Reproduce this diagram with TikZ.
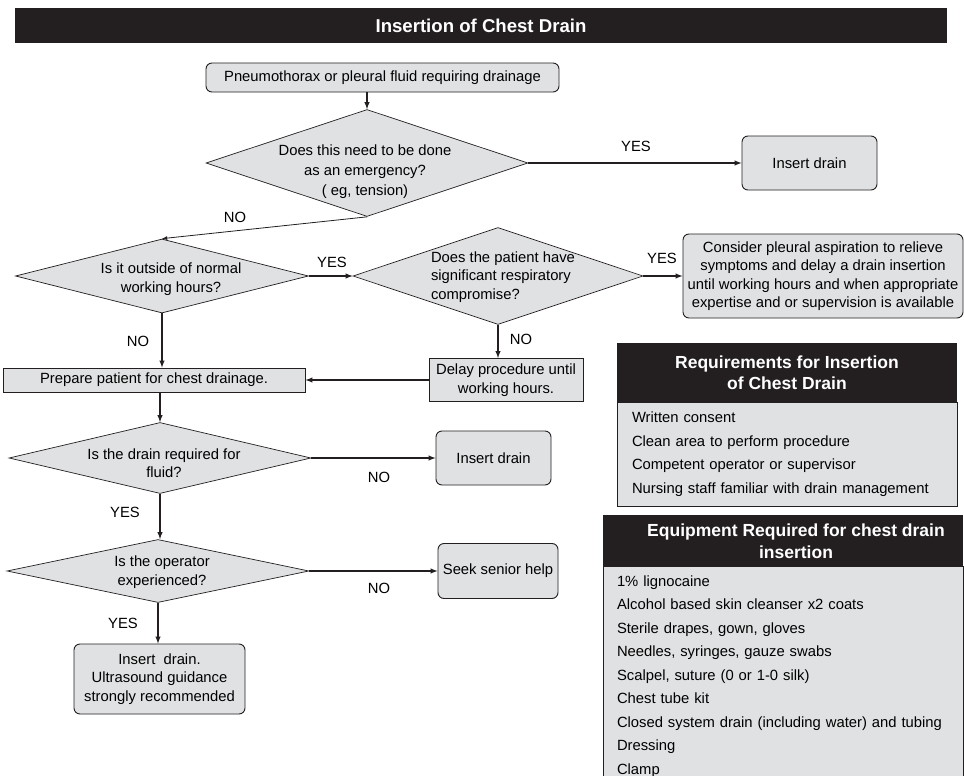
\documentclass[tikz,border=0pt]{standalone}
\usepackage{fontspec}
\setmainfont{Liberation Sans}
\usetikzlibrary{shapes.geometric,arrows}
\definecolor{boxgray}{RGB}{224,225,227}
\definecolor{inkblack}{RGB}{35,31,32}
\newcommand{\bodyfont}{\fontsize{14.8}{18.5}\selectfont}
\newcommand{\listfont}{\fontsize{14.8}{23.5}\selectfont}
\newcommand{\headfont}{\fontsize{17.5}{21.5}\selectfont\bfseries}
\newcommand{\titlefont}{\fontsize{18.6}{22}\selectfont\bfseries}
\tikzstyle{box}=[draw=inkblack,fill=boxgray,line width=0.9pt,inner sep=0pt,align=center,font=\bodyfont]
\tikzstyle{roundbox}=[box,rounded corners=6pt]
\tikzstyle{decision}=[diamond,draw=inkblack,fill=boxgray,line width=0.7pt,inner sep=0pt]
\tikzstyle{qtext}=[inner sep=0pt,align=center,font=\bodyfont]
\tikzstyle{answer}=[inner sep=0pt,font=\bodyfont]
\tikzstyle{headbar}=[fill=inkblack,text=white,inner sep=0pt,align=center]
\tikzstyle{listbox}=[draw=inkblack,fill=boxgray,line width=0.9pt,align=left,font=\listfont,inner xsep=15pt,inner ysep=0pt]
\tikzstyle{flow}=[line width=1.4pt,draw=inkblack,-latex]
\tikzstyle{thinflow}=[line width=0.8pt,draw=inkblack,-latex]

\begin{document}
\begin{tikzpicture}[x=1pt,y=-1pt]
\useasboundingbox (0,0) rectangle (964,776);

% title bar
\node[headbar,minimum width=932,minimum height=35,font=\titlefont] (title) at (481,25.5) {Insertion of Chest Drain};

% flow chart
\node[roundbox,minimum width=353,minimum height=29] (start) at (382.5,77.5) {Pneumothorax or pleural fluid requiring drainage};
\node[decision,minimum width=322,minimum height=107] (emerg) at (367,163) {};
\node[qtext] (emergtext) at (365,172) {Does this need to be done\\[1.5pt]as an emergency?\\[1.5pt]( eg, tension)};
\node[roundbox,minimum width=135,minimum height=54] (ins1) at (809.5,163) {Insert drain};

\node[decision,minimum width=293,minimum height=74] (hours) at (162,276) {};
\node[qtext] (hourstext) at (171,279) {Is it outside of normal\\working hours?};
\node[decision,minimum width=290,minimum height=97] (resp) at (498,276) {};
\node[qtext,align=left] (resptext) at (503,277) {Does the patient have\\significant respiratory\\compromise?};
\node[roundbox,minimum width=280,minimum height=84] (aspir) at (823,276) {Consider pleural aspiration to relieve\\symptoms and delay a drain insertion\\until working hours and when appropriate\\expertise and or supervision is available};

\node[box,minimum width=154,minimum height=43] (delay) at (506,380) {Delay procedure until\\working hours.};
\node[box,minimum width=302,minimum height=24] (prep) at (154,380) {Prepare patient for chest drainage.};

\node[decision,minimum width=302,minimum height=71] (fluid) at (160,458) {};
\node[qtext] (fluidtext) at (164,463) {Is the drain required for\\fluid?};
\node[roundbox,minimum width=115,minimum height=54] (ins2) at (493.5,458) {Insert drain};

\node[decision,minimum width=302,minimum height=63] (oper) at (158,571) {};
\node[qtext] (opertext) at (162,572) {Is the operator\\experienced?};
\node[roundbox,minimum width=120,minimum height=55] (senior) at (498,571) {Seek senior help};
\node[roundbox,minimum width=171,minimum height=70] (ins3) at (159.5,679) {Insert\ \ drain.\\Ultrasound guidance\\strongly recommended};

% answers
\node[answer] (yes1) at (636,146) {YES};
\node[answer] (no1) at (235,217) {NO};
\node[answer] (yes2) at (332,262) {YES};
\node[answer] (yes3) at (662,258) {YES};
\node[answer] (no3) at (521,339) {NO};
\node[answer] (no2) at (138,341) {NO};
\node[answer] (no4) at (379,477) {NO};
\node[answer] (yes4) at (125,512) {YES};
\node[answer] (no5) at (379,588) {NO};
\node[answer] (yes5) at (123,623) {YES};

% connectors
\draw[flow] (emerg.north |- start.south) -- (emerg.north);
\draw[flow] (emerg.east) -- (ins1.west);
\draw[thinflow] (emerg.south) -- (hours.north);
\draw[flow] (hours.east) -- (resp.west);
\draw[flow] (resp.east) -- (aspir.west);
\draw[flow] (resp.south) -- (resp.south |- delay.north);
\draw[flow] (hours.south) -- (hours.south |- prep.north);
\draw[flow] (delay.west) -- (prep.east);
\draw[flow] (fluid.north |- prep.south) -- (fluid.north);
\draw[flow] (fluid.east) -- (ins2.west);
\draw[flow] (fluid.south) -- (fluid.south |- oper.north);
\draw[flow] (oper.east) -- (senior.west);
\draw[flow] (oper.south) -- (oper.south |- ins3.north);

% side panels
\node[headbar,minimum width=340,minimum height=59,font=\headfont] (reqhead) at (787,372.5) {Requirements for Insertion\\of Chest Drain};
\node[listbox,text width=310,minimum height=104] (reqlist) at (787,454) {Written consent\\Clean area to perform procedure\\Competent operator or supervisor\\Nursing staff familiar with drain management};

\node[headbar,minimum width=360,minimum height=51] (eqhead) at (783,540.5) {};
\node[headbar,font=\headfont,fill=none] (eqtitle) at (796,541) {Equipment Required for chest drain\\insertion};
\node[listbox,text width=332,inner xsep=14pt,minimum height=221] (eqlist) at (783,676.5) {1\% lignocaine\\Alcohol based skin cleanser x2 coats\\Sterile drapes, gown, gloves\\Needles, syringes, gauze swabs\\Scalpel, suture (0 or 1-0 silk)\\Chest tube kit\\Closed system drain (including water) and tubing\\Dressing\\Clamp};
\end{tikzpicture}
\end{document}
